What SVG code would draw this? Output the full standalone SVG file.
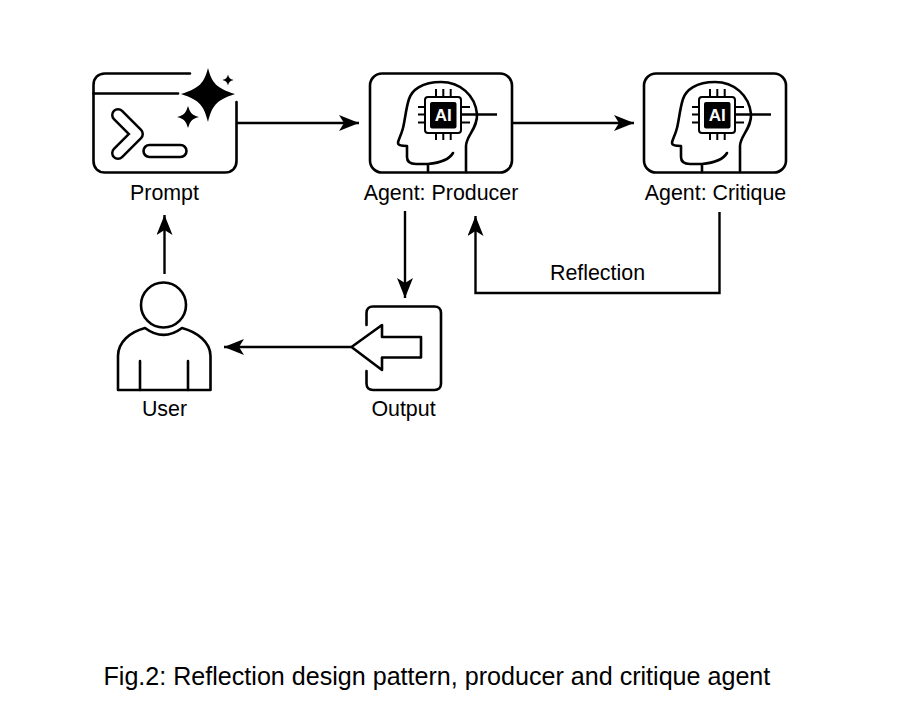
<svg xmlns="http://www.w3.org/2000/svg" width="907" height="724" viewBox="0 0 907 724">
<style>
text{font-family:"Liberation Sans",Arial,sans-serif;fill:#000}
.lb{font-size:21.400px;text-anchor:middle}
.ai{font-size:17px;font-weight:bold;text-anchor:middle;fill:#fff}
.s{fill:none;stroke:#000;stroke-width:2.600;stroke-linecap:round;stroke-linejoin:round}
.c{fill:none;stroke:#000;stroke-width:2.400}
.p{fill:none;stroke:#000;stroke-width:2}
</style>
<defs>
<marker id="arr" markerUnits="userSpaceOnUse" markerWidth="22" markerHeight="18" refX="20" refY="8" orient="auto">
<path d="M0 0L20 8L0 16L5 8Z" fill="#000"/>
</marker>
<g id="agent">
<rect class="s" x="370" y="73.500" width="142" height="99" rx="12"/>
<path class="s" stroke-linecap="butt" d="M466 172V146C466 136 478 128 477 114C475 95 460 82 441 82C422 82 412 90 409 99C406 108 405 120 403 128C401 136 398 140 398 143C398 145 402 146 407 146V157C407 162 411 164 416 164H428C438 163 449 160 453 153M428 164V172"/>
<rect x="425" y="97" width="36" height="36" rx="3" fill="#fff" stroke="#000" stroke-width="2"/>
<rect x="430" y="102" width="26.500" height="26.500" rx="2" fill="#000"/>
<path class="p" d="M436 89V97M443.300 89V97M450.700 89V97M436 133V140M443.300 133V140M450.700 133V140M418 107H425M418 114.500H425M418 122.500H425M461 107H470M461 122.500H470"/>
<path d="M461 114.500H497" fill="none" stroke="#000" stroke-width="2.600"/>
</g>
</defs>
<g id="connectors">
<path class="c" marker-end="url(#arr)" d="M237 123H359"/>
<path class="c" marker-end="url(#arr)" d="M513 123H634"/>
<path class="c" marker-end="url(#arr)" d="M405 211V298"/>
<path class="c" marker-end="url(#arr)" d="M351 347H224"/>
<path class="c" marker-end="url(#arr)" d="M164.500 274V215"/>
<path class="c" marker-end="url(#arr)" d="M719.500 212V293H475.500V216"/>
<text class="lb" x="597.500" y="280">Reflection</text>
</g>
<g id="node-prompt">
<path class="s" d="M190 73.500H105C98 73.500 93.500 78 93.500 85V161C93.500 168 98 172.500 105 172.500H225C232 172.500 236.500 168 236.500 161V102"/>
<path class="s" stroke-linecap="butt" d="M93.500 93.500H178"/>
<path d="M208 68C212 83 216 88 235 94C216 100 212 106 208 122C204 106 200 100 181 94C200 88 204 83 208 68Z" fill="#000"/>
<path d="M188 106C190 112 191 115 199 117C191 119 190 122 188 128C186 122 185 119 177 117C185 115 186 112 188 106Z" fill="#000"/>
<path d="M228 74.500C229 78 230 79 233.500 80C230 81 229 82 228 85.500C227 82 226 81 222.500 80C226 79 227 78 228 74.500Z" fill="#000"/>
<path d="M118 115L137 134L118 153" fill="none" stroke="#000" stroke-width="14" stroke-linecap="round" stroke-linejoin="round"/>
<path d="M118 115L137 134L118 153" fill="none" stroke="#fff" stroke-width="9" stroke-linecap="round" stroke-linejoin="round"/>
<rect class="s" x="143.500" y="145" width="43" height="12" rx="6"/>
<text class="lb" x="164.500" y="199.500">Prompt</text>
</g>
<g id="node-producer">
<use href="#agent"/>
<text class="ai" x="443.300" y="121">AI</text>
<text class="lb" x="441" y="199.500">Agent: Producer</text>
</g>
<g id="node-critique">
<use href="#agent" x="274"/>
<text class="ai" x="717.300" y="121">AI</text>
<text class="lb" x="715.500" y="199.500">Agent: Critique</text>
</g>
<g id="node-user">
<circle class="s" cx="163.500" cy="305" r="22.500"/>
<path class="s" d="M118 390V356C118 342 130 332 145 328C157 337 170 337 182 328C197 332 210.500 342 210.500 356V390Z"/>
<path class="s" stroke-linecap="butt" d="M140 361V390M188 361V390"/>
<text class="lb" x="164.500" y="415.500">User</text>
</g>
<g id="node-output">
<path class="s" d="M366.500 325V313C366.500 309 369 306.500 373 306.500H434.500C438.500 306.500 441 309 441 313V383.500C441 387.500 438.500 390 434.500 390H373C369 390 366.500 387.500 366.500 383.500V371"/>
<path class="s" stroke-linecap="butt" d="M351.500 347L382 325V337H421V357.500H382V370Z"/>
<text class="lb" x="403.500" y="415.500">Output</text>
</g>
<text x="103.500" y="684.500" font-size="25.100">Fig.2: Reflection design pattern, producer and critique agent</text>
</svg>
